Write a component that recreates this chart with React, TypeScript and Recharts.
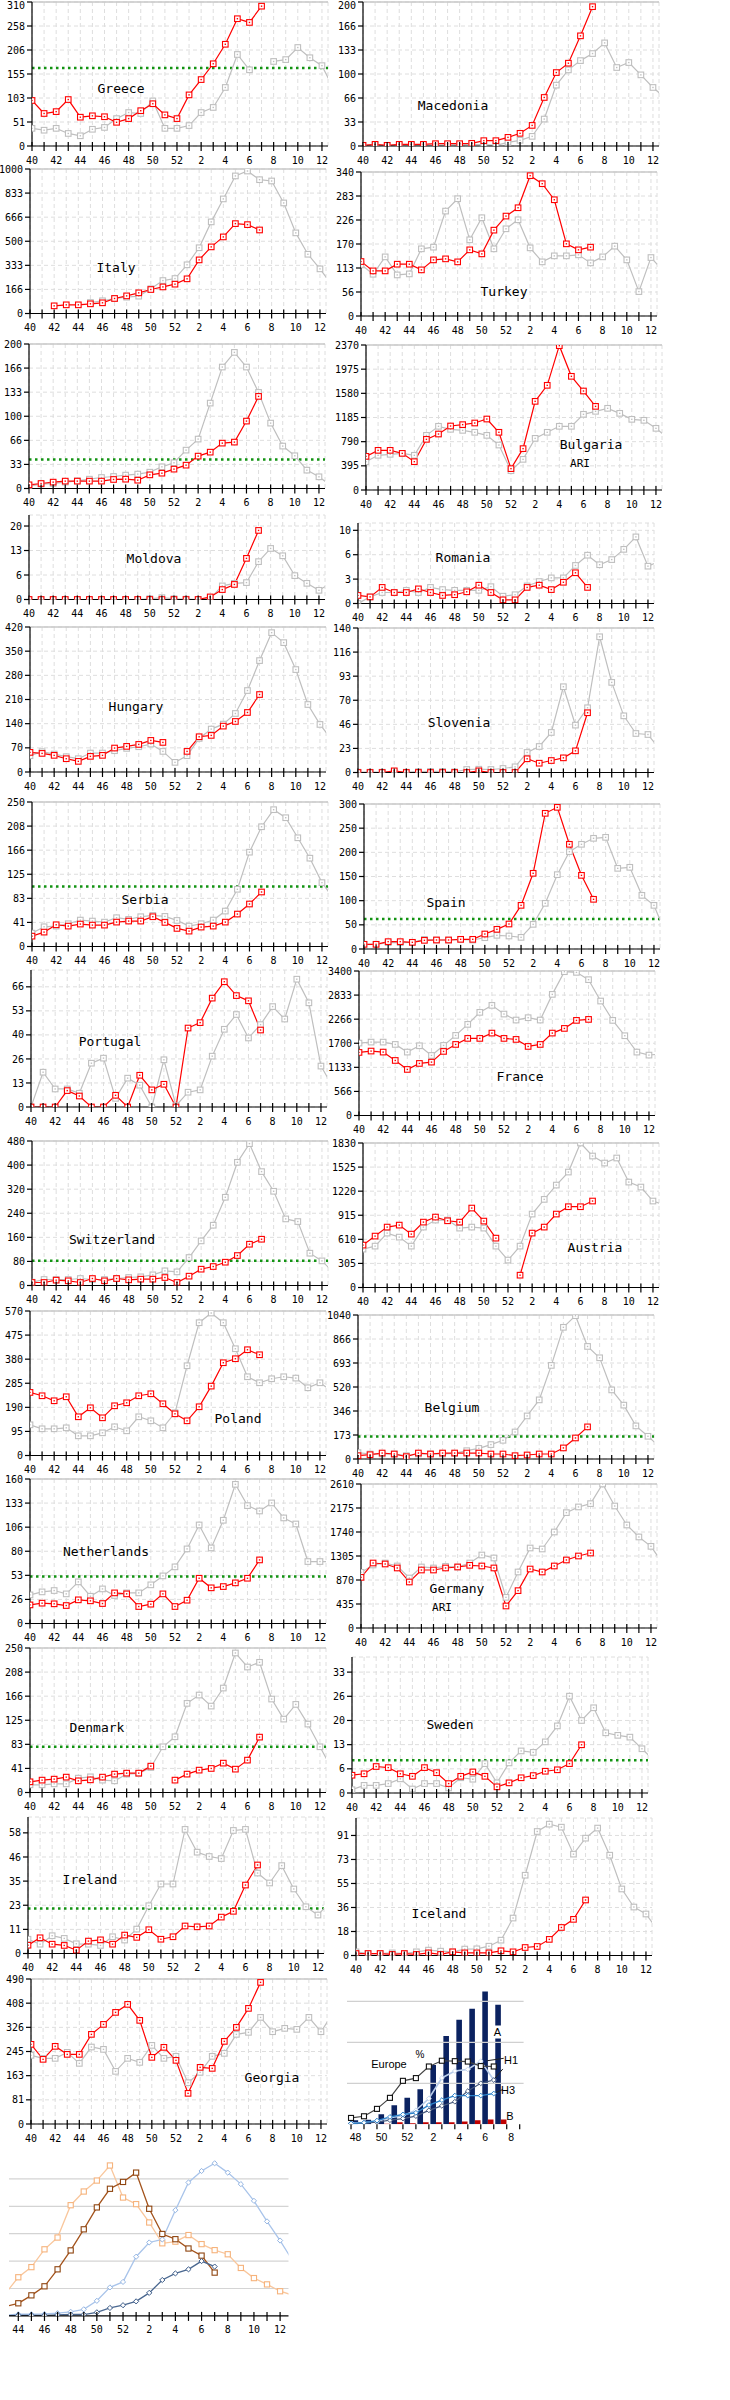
import React from "react";
import { LineChart, Line, ComposedChart, Bar, XAxis, YAxis, CartesianGrid, ReferenceLine } from "recharts";

// week axis shared by all country panels (index 0..25)
const WEEKS = [40, 41, 42, 43, 44, 45, 46, 47, 48, 49, 50, 51, 52, 1, 2, 3, 4, 5, 6, 7, 8, 9, 10, 11, 12, 13];
const X_TICKS = WEEKS.slice(0, 25).map((_, i) => i);

const MONO = "'DejaVu Sans Mono', monospace";
const SANS = "'Liberation Sans', Arial, sans-serif";
const RED = "#ff0000";
const GREY = "#bfbfbf";
const GREEN = "#129312";

// current season (red) and previous season (grey), weeks 40..13
const greeceRed = [98, 70, 74, 100, 62, 65, 63, 51, 59, 76, 91, 67, 59, 110, 143, 177, 219, 274, 266, 301];
const greeceGrey = [38, 34, 38, 27, 22, 36, 40, 59, 72, 70, 97, 38, 38, 44, 72, 83, 126, 197, 164, null, 182, 186, 212, 190, 173, 121];
const macedoniaRed = [0.9, 2.3, 0.9, 2.3, 2.3, 2.3, 3.2, 3.2, 3.2, 3.7, 7.4, 7.4, 12, 17.6, 28.6, 67.4, 102, 115, 153, 193.5];
const macedoniaGrey = [1, 1, 1, 1, 1, 1, 1, 1.5, 1.5, 2, 2, 0.9, 5.1, 7.9, 13.4, 37.4, 84.5, 105.7, 118.6, 128.4, 143.2, 109, 115.9, 98.8, 81.3, 67];
const italyRed = [null, null, 53, 60, 60, 67, 74, 104, 122, 143, 166, 184, 203, 240, 371, 461, 530, 622, 615, 578];
const italyGrey = [null, null, null, null, null, 76, 88, 104, 113, 120, 171, 228, 242, 337, 455, 634, 793, 952, 986, 926, 917, 765, 558, 410, 309, 195];
const turkeyRed = [128.6, 106.5, 106.5, 122.3, 122.3, 108.9, 132.5, 134.9, 127.8, 156.2, 146.7, 202.7, 235.9, 255.6, 331.3, 312.4, 274.5, 170.4, 156.2, 162.5];
const turkeyGrey = [121.5, 98.6, 139.6, 97, 99.4, 158.6, 162.5, 247.7, 276.9, 179.9, 232, 158.6, 205.9, 227.2, 160.9, 127.8, 142, 142, 144.4, 125.4, 139.6, 164.9, 132.5, 57.6, 138, 107];
const unnamedRed = [5.1, 6.9, 8.8, 10.2, 10.2, 10.2, 10.2, 12.5, 12.9, 11.5, 18.9, 21.2, 26.8, 32.3, 44.8, 50.3, 62.8, 64.2, 93.3, 127.5];
const unnamedGrey = [3.2, 6, 6.9, 8.8, 10.6, 12.9, 15.2, 16.6, 18.5, 19.9, 22.6, 30, 35.6, 53.1, 68.4, 118.2, 168.1, 188.4, 168.1, 133, 90.5, 58.7, 45.3, 25.4, 16.2, 4];
const bulgariaRed = [550, 648, 648, 599, 463, 828, 915, 1046, 1068, 1095, 1160, 943, 349, 676, 1449, 1711, 2359, 1858, 1618, 1367];
const bulgariaGrey = [463, 567, 583, 599, 567, 893, 1041, 992, 975, 943, 893, 735, 316, 501, 844, 943, 1041, 1041, 1237, 1286, 1335, 1253, 1155, 1139, 1008, 845];
const moldovaRed = [0, 0, 0, 0, 0, 0, 0, 0, 0, 0, 0, 0, 0, 0, 0, 0.7, 2.7, 4.1, 11.2, 18.8];
const moldovaGrey = [0, 0, 0, 0, 0, 0, 0, 0, 0, 0, 0.2, 0.5, 0.2, 0.1, 0, 0.3, 3.7, 4.4, 4.6, 10.3, 13.9, 11.9, 6.5, 4.4, 2.5, 4.5];
const romaniaRed = [1.1, 0.9, 2.2, 1.5, 1.5, 2.0, 1.5, 1.1, 1.2, 1.6, 2.5, 1.5, 0.5, 0.5, 2.2, 2.5, 1.9, 2.9, 4.2, 2.2];
const romaniaGrey = [0, 0.9, 1.5, 1.5, 1.8, 1.5, 2.2, 1.9, 1.8, 1.8, 1.8, 2.3, 1.0, 1.2, 2.4, 3.0, 3.5, 3.5, 5.2, 6.6, 5.3, 6.0, 7.4, 9.1, 5.1, 5.8];
const hungaryRed = [56.8, 53.9, 48.2, 38.5, 30.8, 45.3, 48.2, 69.4, 74.2, 79.9, 91.5, 85.7, null, 59.7, 102.1, 106, 132.9, 146.4, 172.4, 224.4];
const hungaryGrey = [47.2, 58.8, 52, 44.3, 38.5, 54.9, 54.9, 61.7, 68.4, 73.2, 80.9, 59.7, 27.9, 47.2, 97.3, 124.3, 138.7, 169.5, 236, 322.7, 403.6, 374.7, 296.7, 195.5, 137.8, 92];
const sloveniaRed = [0, 0, 0, 1.6, 0, 0, 0, 0, 0, 0, 1.6, 0, 0, 0, 13.3, 9, 11.6, 14.2, 21, 57.9];
const sloveniaGrey = [0.3, 0.3, 0.3, 0.6, 0.3, 0.8, 1, 1, 0.6, 2.9, 3.2, 2.9, 3.9, 5.5, 19.4, 25.2, 38.8, 83.1, 45.9, 62.7, 131.5, 87.3, 54.9, 37.8, 36.8, 22];
const serbiaRed = [17.9, 24.9, 37.6, 35.3, 38.8, 37, 37, 42.2, 44, 44, 51.5, 41.7, 31.3, 26.6, 33.6, 35.3, 42.2, 56.1, 73.5, 94.3];
const serbiaGrey = [23.1, 34.1, 35.3, 39.4, 45.7, 44, 42.2, 49.8, 46.9, 51.5, 53.8, 52.1, 45.1, 35.3, 39.4, 45.7, 61.3, 99, 163.2, 207.2, 236.7, 222.8, 188.1, 152.8, 110.5, 82];
const spainRed = [9.7, 9.7, 15.2, 15.2, 13.8, 17.9, 18.6, 18.6, 20, 20, 31, 40.7, 51.7, 90.3, 156.6, 280.7, 293.1, 216.6, 152.4, 102.8];
const spainGrey = [9.7, 9.7, 13.1, 13.1, 13.8, 20, 18.6, 18.6, 20, 18.6, 23.4, 28.3, 26.9, 24.1, 51, 94.5, 153.8, 201.4, 216.6, 229, 231, 166.9, 169, 111, 90.3, 30];
const portugalRed = [0, 0, 0, 9.1, 6.1, 0, 0, 6.5, 0, 17.6, 9.5, 12.6, 0, 43.8, 46.8, 60.4, 69.5, 61.8, 58.9, 42.7];
const portugalGrey = [0, 19.3, 10, 10, 7.6, 24.3, 27.1, 4.8, 16, 12.1, 0, 26.2, 0.7, 8.2, 9.5, 28.2, 43.1, 51.3, 38.3, 45.7, 55.7, 48.8, 70.9, 57.8, 22.7, 11];
const franceRed = [1484, 1516, 1492, 1295, 1084, 1225, 1256, 1508, 1672, 1814, 1814, 1939, 1814, 1790, 1625, 1672, 1939, 2049, 2238, 2261];
const franceGrey = [1704, 1727, 1727, 1672, 1492, 1641, 1413, 1649, 1885, 2144, 2427, 2591, 2387, 2246, 2301, 2246, 2850, 3384, 3368, 3196, 2693, 2238, 1877, 1492, 1421, 1450];
const switzerlandRed = [10, 10, 17.7, 15.5, 10, 23.2, 15.5, 23.2, 18.8, 21, 21, 26.5, 10, 31, 54.2, 63, 77.4, 99.5, 137.1, 153.7];
const switzerlandGrey = [11, 19.9, 19.9, 19.9, 23.2, 19.9, 19.9, 23.2, 26.5, 28.8, 35.4, 48.7, 45.3, 92.9, 148.2, 200.2, 293.1, 409.2, 471.2, 378.3, 313, 221.2, 212.4, 107.3, 81.8, 41];
const austriaRed = [537, 651, 765, 790, 676, 828, 892, 845, 828, 1006, 841, 625, null, 156, 689, 765, 930, 1023, 1023, 1095];
const austriaGrey = [486, 524, 689, 638, 524, 765, 854, 854, 752, 765, 752, 524, 347, 524, 930, 1116, 1297, 1462, 1830, 1665, 1576, 1640, 1335, 1272, 1095, 1040];
const polandRed = [248.8, 235.6, 215.9, 231.7, 152.7, 188.2, 148.7, 196.1, 207.9, 235.6, 243.5, 204, 164.5, 136.9, 192.2, 273.7, 365.9, 381.7, 417.2, 397.4];
const polandGrey = [121.1, 105.3, 105.3, 109.2, 77.6, 77.6, 89.5, 113.2, 97.4, 152.7, 136.9, 109.2, 168.5, 354.1, 523.8, 562, 523.8, 421.1, 310.6, 286.9, 302.7, 310.6, 305.3, 267.2, 286.9, 253];
const belgiumRed = [24, 31, 43, 36, 17, 43, 36, 43, 43, 43, 43, 36, 36, 24, 29, 36, 36, 80, 152, 232];
const belgiumGrey = [46, 36, 36, 36, 24, 36, 36, 36, 41, 60, 77, 104, 135, 195, 311, 427, 676, 951, 1035, 813, 731, 499, 389, 239, 164, 85];
const netherlandsRed = [20.6, 22.5, 21.8, 19.9, 26.2, 25.1, 22.1, 33.9, 32.8, 18.8, 21.4, 32.8, 18.8, 25.8, 50.1, 39.5, 40.9, 45, 50.1, 70.4];
const netherlandsGrey = [31.7, 35, 36.5, 32.8, 46.1, 30.2, 38.3, 31, 33.9, 33.9, 42.8, 52.7, 62.7, 82.6, 109.1, 83.7, 114.3, 154.1, 130.5, 124.6, 133.5, 116.9, 110.2, 68.6, 68.6, 68.6];
const germanyRed = [918, 1178, 1160, 1088, 834, 1051, 1051, 1088, 1106, 1136, 1124, 1088, 399, 677, 1069, 1015, 1124, 1233, 1305, 1359];
const germanyGrey = [1009, 1142, 1178, 1124, 906, 1106, 1088, 1118, 1106, 1178, 1323, 1269, 556, 1015, 1450, 1432, 1740, 2091, 2194, 2254, 2610, 2211, 1867, 1650, 1480, 1160];
const denmarkRed = [18.5, 21.4, 23.1, 26.6, 20.2, 21.9, 26.6, 31.8, 33.5, 33.5, 45.6, null, 21.4, 31.8, 38.7, 41.6, 50.8, 40.4, 56, 95.8];
const denmarkGrey = [13.3, 13.3, 15, 15, 24.8, 27.1, 21.4, 20.2, 31.8, 32.9, 43.3, 79.1, 96.4, 154.2, 168.6, 149.5, 180.7, 241.4, 217.1, 225.2, 161.7, 127, 152.4, 118.4, 79.1, 40];
const swedenRed = [4.9, 5.3, 7.3, 7.0, 5.3, 4.6, 7.0, 5.6, 2.6, 4.6, 5.8, 4.6, 1.7, 2.8, 4.2, 4.8, 6.0, 6.4, 8.1, 13.3];
const swedenGrey = [0.9, 2.1, 2.1, 2.6, 3.9, 1.1, 2.6, 2.6, 1.4, 4.2, 3.8, 8.1, 2.8, 8.3, 11.6, 11.2, 14.1, 18.5, 26.7, 20, 23.5, 16.6, 15.9, 15.4, 12.2, 9];
const irelandRed = [4, 7.6, 4.5, 3.9, 1.6, 6, 6.6, 4.5, 8.9, 7.8, 11.5, 6.9, 8.1, 13.3, 12.9, 13.3, 17.6, 20.4, 33.1, 42.8];
const irelandGrey = [6.9, 4.5, 8.6, 7.3, 4.7, 4.5, 3.9, 8.1, 6.5, 11.8, 23.1, 33.6, 33.6, 60, 49, 46.9, 45.9, 59.5, 60, 38.9, 34.1, 42.5, 31.2, 22.6, 18.6, 25];
const icelandRed = [1.5, 1.5, 1.5, 0.8, 1.5, 0.8, 2, 0.8, 2.8, 2, 2, 2, 3.6, 2.8, 6.1, 6.9, 12.3, 21.4, 27.6, 42.4];
const icelandGrey = [2.8, 1.5, 1.5, 2, 1.5, 2.8, 4.1, 3.3, 2.8, 4.9, 5.1, 7.1, 11.7, 28.6, 61.3, 94.7, 100.3, 98, 77.4, 89.6, 97.3, 76.6, 50.8, 37, 31.7, 19];
const georgiaRed = [269.2, 218.5, 262.4, 235.3, 235.3, 302.9, 336.6, 377.2, 404.2, 350.2, 225.2, 259, 215.1, 103.6, 191.4, 188, 279.2, 326.5, 390.7, 478.6];
const georgiaGrey = [232, 221.8, 221.8, 242.1, 204.9, 260.1, 252.2, 177.9, 221.8, 208.3, 265.7, 221.8, 228.6, 139.6, 174.5, 228.6, 238.7, 302.9, 309.7, 360.3, 311.9, 323.2, 319.8, 360.3, 311.9, 375];

// Europe summary: weeks 48..7
const EU_IDX = [8, 9, 10, 11, 12, 13, 14, 15, 16, 17, 18, 19];
const euA = [10, 11, 24.5, 46.5, 64.5, 85.7, 144.5, 215.5, 254.7, 281.6, 324, 291.4];
const euB = [0, 0, 1.5, 5, 2.4, 5, 5, 5, 7, 10, 12, 12];
const euPct = [15.5, 19.6, 37.6, 64.5, 106, 112.7, 141, 155, 154, 153, 142, 141];
const euH1 = [3, 4, 7, 16, 21, 34, 63, 113, 130, 134, 154, 108];
const euH1b = [2, 3, 5, 10, 14, 20, 34, 45, 55, 81, 100, 108];
const euH3 = [2, 4, 9, 18, 24, 28, 47, 59, 70, 70, 70, 75];

// bottom chart: weeks 43..13
const BOT_IDX = [3, 4, 5, 6, 7, 8, 9, 10, 11, 12, 13, 14, 15, 16, 17, 18, 19, 20, 21, 22, 23, 24, 25];
const botOrange = [8.1, 14.1, 17.8, 24.3, 28.6, 40.4, 45.4, 49.4, 54.9, 43.2, 40.8, 34.1, 26.5, 27.1, 29.5, 26.2, 24.0, 22.5, 17.5, 13.8, 11.5, 9.0, 7.5];
const botBrown = [3.4, 4.6, 7.5, 10.8, 17.0, 23.9, 31.6, 39.6, 46.4, 48.9, 52.3, 39.1, 29.9, 28.0, 24.6, 22.0, 15.8];
const botLight = [0.3, 0.6, 0.6, 0.7, 1.0, 1.5, 2.4, 5.5, 10.4, 12.4, 21.6, 26.8, 27.9, 38.6, 48.7, 52.9, 55.7, 52.3, 48.1, 42.0, 34.5, 27.5, 19.8];
const botDark = [0.1, 0.2, 0.2, 0.2, 0.4, 0.5, 0.5, 1.3, 2.9, 3.9, 5.3, 8.4, 13.1, 15.5, 17.0, 20.0, 18.0];

// panel layout: ax = y-axis x, top/bottom = plot edges (page px)
const PANELS = [
  { name: "Greece", red: greeceRed, grey: greeceGrey, ax: 32.3, top: 2, bottom: 146, max: 310, step: 310 / 6, n: 6, thr: 168, lx: 121, ly: 88 },
  { name: "Macedonia", red: macedoniaRed, grey: macedoniaGrey, ax: 362.7, top: 2, bottom: 146, max: 200, step: 200 / 6, n: 6, lx: 453, ly: 105 },
  { name: "Italy", red: italyRed, grey: italyGrey, ax: 30.4, top: 168.5, bottom: 313, max: 1000, step: 1000 / 6, n: 6, lx: 116, ly: 267 },
  { name: "Turkey", red: turkeyRed, grey: turkeyGrey, ax: 360.7, top: 171.5, bottom: 315.5, max: 340, step: 340 / 6, n: 6, lx: 504, ly: 291 },
  { name: "", red: unnamedRed, grey: unnamedGrey, ax: 29, top: 343.5, bottom: 488, max: 200, step: 200 / 6, n: 6, thr: 40 },
  { name: "Bulgaria", red: bulgariaRed, grey: bulgariaGrey, ax: 365.9, top: 345, bottom: 490, max: 2370, step: 2370 / 6, n: 6, lx: 591, ly: 444, sub: "ARI", sx: 580, sy: 463 },
  { name: "Moldova", red: moldovaRed, grey: moldovaGrey, ax: 29, top: 515, bottom: 599.5, max: 23, step: 20 / 3, n: 3, lx: 154, ly: 558 },
  { name: "Romania", red: romaniaRed, grey: romaniaGrey, ax: 357.5, top: 523, bottom: 603.5, max: 11, step: 10 / 3, n: 3, lx: 463, ly: 557 },
  { name: "Hungary", red: hungaryRed, grey: hungaryGrey, ax: 30.4, top: 627, bottom: 772, max: 420, step: 70, n: 6, lx: 136, ly: 706 },
  { name: "Slovenia", red: sloveniaRed, grey: sloveniaGrey, ax: 357.5, top: 628, bottom: 772.5, max: 140, step: 140 / 6, n: 6, lx: 459, ly: 722 },
  { name: "Serbia", red: serbiaRed, grey: serbiaGrey, ax: 31.8, top: 801.5, bottom: 946, max: 250, step: 250 / 6, n: 6, thr: 104, lx: 145, ly: 899 },
  { name: "Spain", red: spainRed, grey: spainGrey, ax: 363.6, top: 804, bottom: 949, max: 300, step: 50, n: 6, thr: 62, lx: 446, ly: 902 },
  { name: "Portugal", red: portugalRed, grey: portugalGrey, ax: 30.8, top: 970, bottom: 1107, max: 76, step: 80 / 6, n: 5, lx: 110, ly: 1041 },
  { name: "France", red: franceRed, grey: franceGrey, ax: 358.9, top: 971, bottom: 1115.5, max: 3400, step: 3400 / 6, n: 6, lx: 520, ly: 1076 },
  { name: "Switzerland", red: switzerlandRed, grey: switzerlandGrey, ax: 31.8, top: 1141, bottom: 1285.5, max: 480, step: 80, n: 6, thr: 82, lx: 112, ly: 1239 },
  { name: "Austria", red: austriaRed, grey: austriaGrey, ax: 362.6, top: 1142.5, bottom: 1287, max: 1830, step: 305, n: 6, lx: 595, ly: 1247 },
  { name: "Poland", red: polandRed, grey: polandGrey, ax: 30.4, top: 1310.5, bottom: 1455, max: 570, step: 95, n: 6, lx: 238, ly: 1418 },
  { name: "Belgium", red: belgiumRed, grey: belgiumGrey, ax: 358.4, top: 1314.5, bottom: 1458.5, max: 1040, step: 1040 / 6, n: 6, thr: 162, lx: 452, ly: 1407 },
  { name: "Netherlands", red: netherlandsRed, grey: netherlandsGrey, ax: 30.4, top: 1478.5, bottom: 1623, max: 160, step: 160 / 6, n: 6, thr: 52, lx: 106, ly: 1551 },
  { name: "Germany", red: germanyRed, grey: germanyGrey, ax: 360.7, top: 1483.5, bottom: 1627.5, max: 2610, step: 435, n: 6, lx: 457, ly: 1588, sub: "ARI", sx: 442, sy: 1607 },
  { name: "Denmark", red: denmarkRed, grey: denmarkGrey, ax: 30.4, top: 1647.5, bottom: 1792, max: 250, step: 250 / 6, n: 6, thr: 79, lx: 97, ly: 1727 },
  { name: "Sweden", red: swedenRed, grey: swedenGrey, ax: 351.9, top: 1656.5, bottom: 1792.5, max: 37.5, step: 40 / 6, n: 5, thr: 9, lx: 450, ly: 1724 },
  { name: "Ireland", red: irelandRed, grey: irelandGrey, ax: 28, top: 1817, bottom: 1953.5, max: 66, step: 70 / 6, n: 5, thr: 21.8, lx: 90, ly: 1879 },
  { name: "Iceland", red: icelandRed, grey: icelandGrey, ax: 356.1, top: 1818, bottom: 1955.5, max: 105, step: 110 / 6, n: 5, lx: 439, ly: 1913 },
  { name: "Georgia", red: georgiaRed, grey: georgiaGrey, ax: 30.8, top: 1979, bottom: 2124, max: 490, step: 490 / 6, n: 6, lx: 272, ly: 2077 },
];

const YW = 36;
const PW = 296;
const XH = 22;

const squareDot = (color: string, s = 2.8, inner = true) => (props: any) => {
  const { cx, cy, index } = props;
  if (cx == null || cy == null || Number.isNaN(cy)) return null;
  return (
    <g key={`sq${index}`}>
      <rect x={cx - s} y={cy - s} width={2 * s} height={2 * s} fill="#fff" stroke={color} strokeWidth={1.1} />
      {inner && <rect x={cx - 0.7} y={cy - 0.7} width={1.4} height={1.4} fill={color} />}
    </g>
  );
};

const diamondDot = (color: string, s = 3) => (props: any) => {
  const { cx, cy, index } = props;
  if (cx == null || cy == null || Number.isNaN(cy)) return null;
  return <path key={`dm${index}`} d={`M${cx},${cy - s}L${cx + s},${cy}L${cx},${cy + s}L${cx - s},${cy}Z`} fill="#fff" stroke={color} strokeWidth={1} />;
};

// week tick: mark across the axis, label on even weeks
const xTick = (axisY: number, sans = false) => (props: any) => {
  const { x, payload } = props;
  const w = WEEKS[payload.value];
  return (
    <g>
      <line x1={x} x2={x} y1={sans ? axisY : axisY - 4} y2={axisY + 5} stroke="#000" strokeWidth={1.2} />
      {w % 2 === 0 && (
        <text
          x={sans ? x + 4.5 : x}
          y={sans ? axisY + 16.5 : axisY + 17.5}
          textAnchor="middle"
          fontFamily={sans ? SANS : MONO}
          fontSize={sans ? 10.5 : 10}
          fill="#000"
        >
          {w}
        </text>
      )}
    </g>
  );
};

const yTick = (minY: number) => (props: any) => {
  const { y, payload } = props;
  const ty = Math.max(y, minY);
  return (
    <g>
      <line x1={YW - 5} x2={YW} y1={y} y2={y} stroke="#000" strokeWidth={1.2} />
      <text x={YW - 7} y={ty + 3.6} textAnchor="end" fontFamily={MONO} fontSize={10} fill="#000">
        {Math.floor(payload.value + 1e-6)}
      </text>
    </g>
  );
};

function CountryPanel({ p }: { p: any }) {
  const ph = p.bottom - p.top;
  const data = WEEKS.map((w, i) => ({ i, red: p.red[i] ?? null, grey: p.grey[i] ?? null }));
  const yTicks = Array.from({ length: p.n + 1 }, (_, k) => k * p.step);
  const topIsTick = Math.abs(p.n * p.step - p.max) < 1e-6;
  // keep the top tick label inside the page
  const minY = 5 - (p.top - 1);
  return (
    <div className="cp" style={{ position: "absolute", left: p.ax - YW, top: p.top - 1 }}>
      <LineChart width={YW + PW + 2} height={ph + 1 + XH} data={data} margin={{ top: 1, right: 2, bottom: 0, left: 0 }}>
        <CartesianGrid stroke="#dedede" strokeDasharray="4 3" />
        {topIsTick && <ReferenceLine y={p.max} stroke="#c8c8c8" strokeWidth={1.5} />}
        {p.thr != null && <ReferenceLine y={p.thr} stroke={GREEN} strokeWidth={2.5} strokeDasharray="2.5 3.5" />}
        <XAxis
          type="number"
          dataKey="i"
          domain={[0, 24.5]}
          ticks={X_TICKS}
          interval={0}
          allowDataOverflow
          height={XH}
          axisLine={{ stroke: "#000", strokeWidth: 1.2 }}
          tickLine={false}
          tick={xTick(1 + ph)}
        />
        <YAxis
          type="number"
          domain={[0, p.max]}
          ticks={yTicks}
          interval={0}
          allowDataOverflow
          width={YW}
          axisLine={{ stroke: "#000", strokeWidth: 1.2 }}
          tickLine={false}
          tick={yTick(minY)}
        />
        <Line dataKey="grey" stroke={GREY} strokeWidth={1.2} dot={squareDot(GREY)} activeDot={false} isAnimationActive={false} />
        <Line dataKey="red" stroke={RED} strokeWidth={1.2} dot={squareDot(RED)} activeDot={false} isAnimationActive={false} />
      </LineChart>
    </div>
  );
}

function EuropeChart() {
  const left = 346.7;
  const pw = 176.6;
  const top = 1989;
  const ph = 135.3;
  const data = EU_IDX.map((i, k) => ({ i, a: euA[k], b: euB[k], pct: euPct[k], h1: euH1[k], h1b: euH1b[k], h3: euH3[k] }));
  const ticks = [8, 9, 10, 11, 12, 13, 14, 15, 16, 17, 18, 19, 20, 21];
  return (
    <div style={{ position: "absolute", left, top: top - 1 }}>
      <ComposedChart width={pw + 2} height={ph + 1 + XH} data={data} margin={{ top: 1, right: 2, bottom: 0, left: 0 }} barGap={0}>
        <XAxis
          xAxisId="w"
          type="number"
          dataKey="i"
          domain={[7.69, 21.3]}
          ticks={ticks}
          interval={0}
          allowDataOverflow
          height={XH}
          axisLine={{ stroke: "#000", strokeWidth: 1.2 }}
          tickLine={false}
          tick={xTick(1 + ph, true)}
        />
        <XAxis xAxisId="b" type="number" dataKey="i" domain={[7.15, 20.76]} ticks={ticks} allowDataOverflow hide />
        <YAxis yAxisId="v" type="number" domain={[0, 330]} allowDataOverflow hide />
        {[100, 200, 300].map((g) => (
          <ReferenceLine key={g} xAxisId="w" yAxisId="v" y={g} stroke="#d0d0d0" strokeWidth={1.2} />
        ))}
        <Bar xAxisId="b" yAxisId="v" dataKey="a" fill="#0b2260" barSize={5.6} isAnimationActive={false} />
        <Bar xAxisId="b" yAxisId="v" dataKey="b" fill="#c00000" barSize={5.6} isAnimationActive={false} />
        <Line xAxisId="w" yAxisId="v" dataKey="h1" stroke="#b7cbe8" strokeWidth={1.6} dot={diamondDot("#c9d8ee", 2.4)} activeDot={false} isAnimationActive={false} />
        <Line xAxisId="w" yAxisId="v" dataKey="h1b" stroke="#45587c" strokeWidth={1.2} dot={diamondDot("#45587c", 2.4)} activeDot={false} isAnimationActive={false} />
        <Line xAxisId="w" yAxisId="v" dataKey="h3" stroke="#2c82c9" strokeWidth={1.4} dot={diamondDot("#2c82c9", 2.4)} activeDot={false} isAnimationActive={false} />
        <Line xAxisId="w" yAxisId="v" dataKey="pct" stroke="#444" strokeWidth={1.2} dot={squareDot("#111", 2.5, false)} activeDot={false} isAnimationActive={false} />
        <ReferenceLine xAxisId="w" yAxisId="v" segment={[{ x: 18.49, y: 155 }, { x: 19.77, y: 161 }]} stroke="#222" ifOverflow="visible" />
        <ReferenceLine xAxisId="w" yAxisId="v" segment={[{ x: 19.0, y: 109 }, { x: 19.7, y: 135 }]} stroke="#222" ifOverflow="visible" />
        <ReferenceLine xAxisId="w" yAxisId="v" segment={[{ x: 19.0, y: 75 }, { x: 19.7, y: 85 }]} stroke="#222" ifOverflow="visible" />
      </ComposedChart>
    </div>
  );
}

function SeasonChart() {
  const left = 9.35;
  const pw = 279.5;
  const top = 2157.1;
  const ph = 158.9;
  const data = BOT_IDX.map((i, k) => ({
    i,
    orange: botOrange[k] ?? null,
    brown: botBrown[k] ?? null,
    light: botLight[k] ?? null,
    dark: botDark[k] ?? null,
  }));
  const ticks = [4, 5, 6, 7, 8, 9, 10, 11, 12, 13, 14, 15, 16, 17, 18, 19, 20, 21, 22, 23, 24];
  return (
    <div style={{ position: "absolute", left, top: top - 1 }}>
      <LineChart width={pw + 2} height={ph + 1 + XH} data={data} margin={{ top: 1, right: 2, bottom: 0, left: 0 }}>
        <XAxis
          type="number"
          dataKey="i"
          domain={[3.29, 24.64]}
          ticks={ticks}
          interval={0}
          allowDataOverflow
          height={XH}
          axisLine={{ stroke: "#000", strokeWidth: 1.2 }}
          tickLine={false}
          tick={xTick(1 + ph)}
        />
        <YAxis type="number" domain={[0, 58]} allowDataOverflow hide />
        {[10, 20, 30, 40, 50].map((g) => (
          <ReferenceLine key={g} y={g} stroke="#d4d4d4" strokeWidth={1.2} />
        ))}
        <Line dataKey="orange" stroke="#f9c79d" strokeWidth={1.3} dot={squareDot("#f6b37c", 2.6, false)} activeDot={false} isAnimationActive={false} />
        <Line dataKey="light" stroke="#a9c4ea" strokeWidth={1.3} dot={diamondDot("#94b5e2", 2.6)} activeDot={false} isAnimationActive={false} />
        <Line dataKey="brown" stroke="#a3531c" strokeWidth={1.3} dot={squareDot("#8f4510", 2.6, false)} activeDot={false} isAnimationActive={false} />
        <Line dataKey="dark" stroke="#4b6890" strokeWidth={1.3} dot={diamondDot("#3a5a88", 2.6)} activeDot={false} isAnimationActive={false} />
      </LineChart>
    </div>
  );
}

const labelStyle = (x: number, y: number, size: number, family = MONO): React.CSSProperties => ({
  position: "absolute",
  left: x,
  top: y,
  transform: "translate(-50%, -50%)",
  fontFamily: family,
  fontSize: size,
  lineHeight: 1,
  whiteSpace: "nowrap",
  color: "#000",
});

export default function App() {
  return (
    <div style={{ position: "absolute", left: 0, top: 0, width: 730, height: 2400, background: "#fff", overflow: "hidden" }}>
      <style>{".cp .recharts-surface{overflow:visible}"}</style>
      {PANELS.map((p, k) => (
        <CountryPanel key={k} p={p} />
      ))}
      <EuropeChart />
      <SeasonChart />
      {PANELS.filter((p) => p.name).map((p) => (
        <div key={p.name} style={labelStyle(p.lx, p.ly, 13)}>
          {p.name}
        </div>
      ))}
      {PANELS.filter((p) => p.sub).map((p) => (
        <div key={p.name + "sub"} style={labelStyle(p.sx, p.sy, 11)}>
          {p.sub}
        </div>
      ))}
      <div style={labelStyle(389, 2064, 11, SANS)}>Europe</div>
      <div style={labelStyle(420, 2055, 10, SANS)}>%</div>
      <div style={labelStyle(511, 2060, 11, SANS)}>H1</div>
      <div style={labelStyle(508, 2090, 11, SANS)}>H3</div>
      <div
        style={{
          ...labelStyle(497.5, 2031.5, 11, SANS),
          background: "#fff",
          width: 11,
          height: 13,
          display: "flex",
          alignItems: "center",
          justifyContent: "center",
        }}
      >
        A
      </div>
      <div style={labelStyle(510, 2116, 11, SANS)}>B</div>
    </div>
  );
}
